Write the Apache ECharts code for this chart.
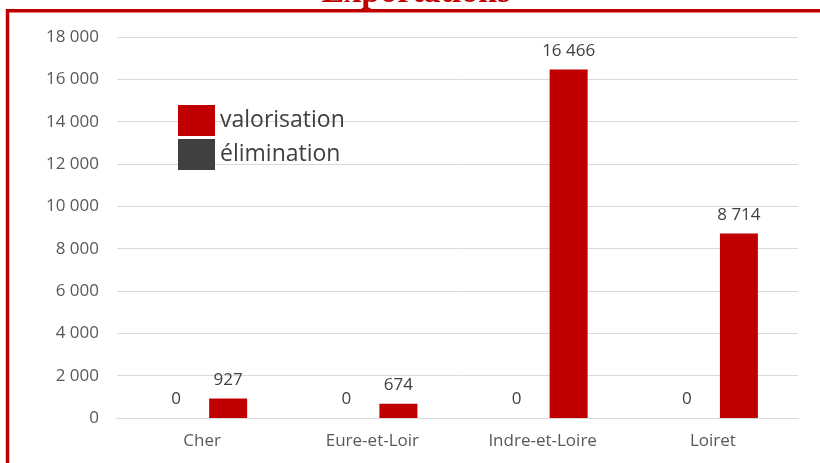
<!DOCTYPE html>
<html>
<head>
<meta charset="utf-8">
<script src="https://cdn.jsdelivr.net/npm/echarts@6/dist/echarts.min.js"></script>
<style>html,body{margin:0;padding:0;background:#fff;}#c{width:820px;height:463px;}</style>
</head>
<body>
<div id="c"></div>
<script>
var titleText = 'Exportations';
var categories = ['Cher', 'Eure-et-Loir', 'Indre-et-Loire', 'Loiret'];
var eliminationValues = [0, 0, 0, 0];
var valorisationValues = [927, 674, 16466, 8714];
var yTicks = { min: 0, max: 18000, interval: 2000 };

function fmt(v) { return String(v).replace(/\B(?=(\d{3})+(?!\d))/g, ' '); }

var chart = echarts.init(document.getElementById('c'), null, { renderer: 'canvas' });
var labelStyle = {
  show: true, position: 'top', distance: 10,
  color: '#404040', fontFamily: 'Open Sans', fontSize: 17,
  formatter: function (p) { return fmt(p.value); }
};
chart.setOption({
  animation: false,
  backgroundColor: '#ffffff',
  graphic: [
    {
      type: 'text', z: 10,
      style: { text: titleText, x: 416, y: -7, align: 'center', verticalAlign: 'middle',
        fill: '#C00000', font: 'bold 34px "Liberation Serif"' }
    },
    {
      type: 'polyline', z: 10,
      shape: { points: [[7.5, 470], [7.5, 10.8], [830, 10.8]] },
      style: { stroke: '#C00000', lineWidth: 3.5, fill: null }
    }
  ],
  legend: {
    orient: 'vertical', left: 178, top: 105, padding: 0,
    itemWidth: 37, itemHeight: 31, itemGap: 3,
    icon: 'rect',
    data: ['valorisation', 'élimination'],
    textStyle: { color: '#404040', fontFamily: 'Open Sans', fontSize: 23, padding: [4, 0, 0, 0] }
  },
  grid: { left: 117, right: 22, top: 37, bottom: 45, containLabel: false },
  xAxis: {
    type: 'category', data: categories,
    axisLine: { show: true, lineStyle: { color: '#d9d9d9', width: 1 } },
    axisTick: { show: false },
    axisLabel: { color: '#595959', fontFamily: 'Open Sans', fontSize: 17, margin: 15 }
  },
  yAxis: {
    type: 'value', min: yTicks.min, max: yTicks.max, interval: yTicks.interval,
    axisLine: { show: false }, axisTick: { show: false },
    splitLine: { lineStyle: { color: '#d9d9d9', width: 1 } },
    axisLabel: { color: '#595959', fontFamily: 'Open Sans', fontSize: 17, margin: 18, formatter: fmt }
  },
  series: [
    { name: 'élimination', type: 'bar', data: eliminationValues, barWidth: 38, barGap: '37%',
      itemStyle: { color: '#404040' }, label: labelStyle },
    { name: 'valorisation', type: 'bar', data: valorisationValues, barWidth: 38, barGap: '37%',
      itemStyle: { color: '#C00000' }, label: labelStyle }
  ]
});
</script>
</body>
</html>
